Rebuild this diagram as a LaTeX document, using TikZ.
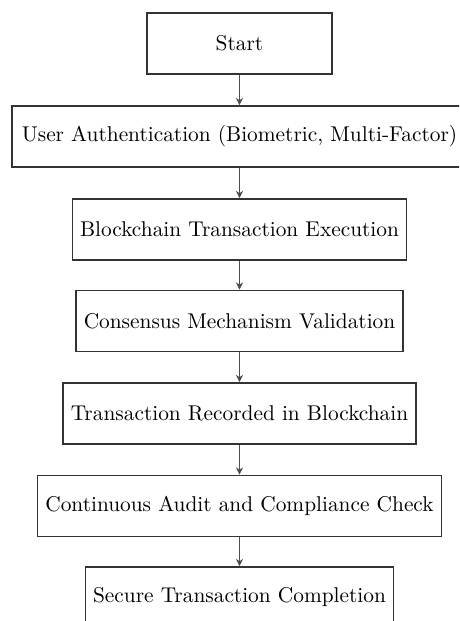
\documentclass[tikz,border=0pt]{standalone}
\usetikzlibrary{arrows.meta}
\begin{document}
\begin{tikzpicture}[x=0.468pt,y=-0.468pt,
  stepbox/.style={draw=black!80,line width=0.75pt,rectangle,minimum height=28.6pt,inner sep=3.6pt,text=black},
  flow/.style={draw=black!70,line width=0.75pt,-{Stealth[length=3.4pt,width=3.4pt]}}]
\useasboundingbox (0,0) rectangle (459,621);
\clip (0,0) rectangle (459,621);
\node[stepbox,minimum width=86.6pt] (s) at (239.5,43.5) {Start};
\node[stepbox,inner xsep=4.6pt] (ua) at (239.5,136.5) {User Authentication (Biometric, Multi-Factor)};
\node[stepbox] (bc) at (239.5,229.5) {Blockchain Transaction Execution};
\node[stepbox] (cm) at (239.5,321) {Consensus Mechanism Validation};
\node[stepbox] (tr) at (239.5,413.5) {Transaction Recorded in Blockchain};
\node[stepbox] (ca) at (239.5,506) {Continuous Audit and Compliance Check};
\node[stepbox] (sc) at (239.5,597.5) {Secure Transaction Completion};
\draw[flow] (s) -- (ua);
\draw[flow] (ua) -- (bc);
\draw[flow] (bc) -- (cm);
\draw[flow] (cm) -- (tr);
\draw[flow] (tr) -- (ca);
\draw[flow] (ca) -- (sc);
\end{tikzpicture}
\end{document}
